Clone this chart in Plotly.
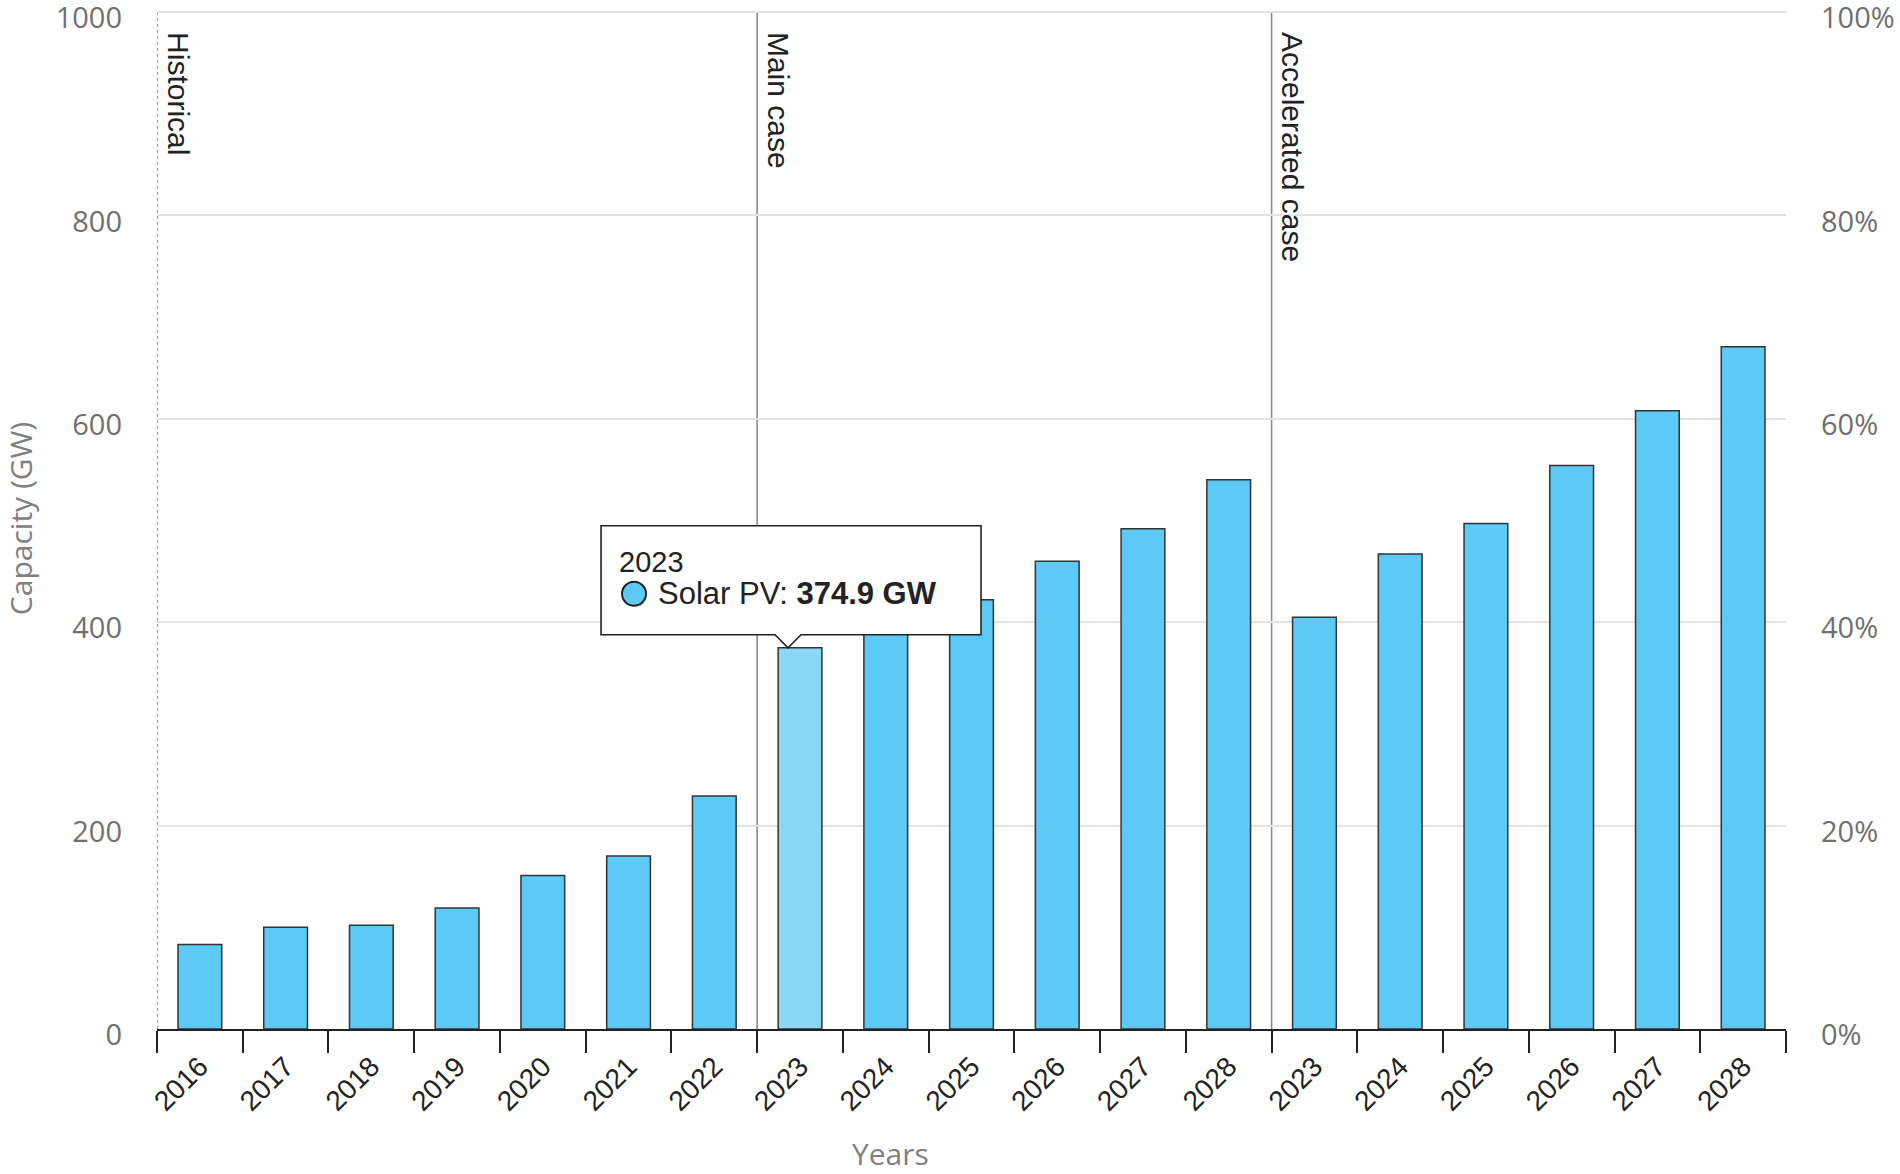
import plotly.graph_objects as go

# ---- data ----
years = ["2016", "2017", "2018", "2019", "2020", "2021", "2022",
         "2023", "2024", "2025", "2026", "2027", "2028",
         "2023", "2024", "2025", "2026", "2027", "2028"]
capacity_gw = [83, 100, 102, 119, 151, 170, 229,
               374.9, 400, 422, 460, 492, 540,
               405, 467, 497, 554, 608, 671]
section_labels = ["Historical", "Main case", "Accelerated case"]
section_starts = [0, 7, 13]          # index of first bar in each section
highlight_index = 7                  # hovered bar (2023 main case)
y_ticks = [0, 200, 400, 600, 800, 1000]
pct_ticks = [0, 20, 40, 60, 80, 100]

BAR = "#5ccaf4"
BAR_HI = "#8ad6f4"

xs = list(range(len(years)))
colors = [BAR_HI if i == highlight_index else BAR for i in xs]

fig = go.Figure()
fig.add_trace(go.Bar(
    x=xs, y=capacity_gw, width=0.51,
    marker=dict(color=colors, line=dict(color="#333333", width=1.5)),
    showlegend=False, hoverinfo="skip",
))
# invisible trace to activate the right-hand percentage axis
fig.add_trace(go.Scatter(x=[xs[0]], y=[None], yaxis="y2", showlegend=False,
                         hoverinfo="skip"))

FONT = "Liberation Sans, Arial, sans-serif"
AXFONT = "Open Sans, Lato, sans-serif"

fig.update_layout(
    width=1900, height=1174,
    margin=dict(l=157, r=114, t=8, b=145),
    paper_bgcolor="white", plot_bgcolor="white",
    xaxis=dict(
        range=[-0.5, len(years) - 0.5],
        tickmode="array", tickvals=xs, ticktext=years,
        tickangle=-45, ticks="", ticklabelstandoff=8,
        tickfont=dict(family=FONT, size=28, color="#222222"),
        showgrid=False, zeroline=False,
        showline=True, linecolor="#222222", linewidth=2,
        minor=dict(tickvals=[i - 0.5 for i in range(len(years) + 1)],
                   ticks="outside", ticklen=22, tickwidth=2,
                   tickcolor="#222222", showgrid=False),
        automargin=False, fixedrange=True,
    ),
    yaxis=dict(
        range=[0, 1004], tickmode="array", tickvals=y_ticks,
        ticktext=[str(v) for v in y_ticks],
        tickfont=dict(family=AXFONT, size=29, color="#707070"),
        showgrid=True, gridcolor="#e3e3e3", gridwidth=2,
        zeroline=False, showline=False, ticks="",
        ticklabelstandoff=34, ticklabeloverflow="allow", ticklabelshift=6,
        title=dict(text="Capacity (GW)", standoff=43,
                   font=dict(family=AXFONT, size=30, color="#808080")),
        automargin=False,
    ),
    yaxis2=dict(
        range=[0, 100.4], overlaying="y", side="right",
        tickmode="array", tickvals=pct_ticks,
        ticktext=[f"{v}%" for v in pct_ticks],
        tickfont=dict(family=AXFONT, size=29, color="#707070"),
        showgrid=False, zeroline=False, showline=False, ticks="",
        ticklabelstandoff=34, ticklabeloverflow="allow", ticklabelshift=6,
        automargin=False,
    ),
    hovermode=False,
)

# section separator lines and labels
for k, (lab, start) in enumerate(zip(section_labels, section_starts)):
    xline = start - 0.5
    fig.add_shape(type="line", xref="x", yref="y", x0=xline, x1=xline,
                  y0=0, y1=1000, layer="below",
                  line=dict(color="#999999" if k == 0 else "#8c8c8c",
                            width=2 if k == 0 else 1.6,
                            dash="dot" if k == 0 else "solid"))
    fig.add_annotation(x=xline, y=1000, xref="x", yref="y", text=lab,
                       textangle=90, showarrow=False, xanchor="left",
                       yanchor="top", xshift=3, yshift=-18,
                       font=dict(family=FONT, size=30, color="#222222"))

# axis title "Years"
fig.add_annotation(x=0.45, y=-0.122, xref="paper", yref="paper", text="Years",
                   showarrow=False, xanchor="center", yanchor="middle",
                   font=dict(family=AXFONT, size=30, color="#808080"))

# tooltip anchored at the highlighted bar's top
hx, hy = highlight_index, capacity_gw[highlight_index]
fig.add_shape(type="path", xref="x", yref="y",
              xsizemode="pixel", ysizemode="pixel",
              xanchor=hx, yanchor=hy,
              path="M -199,13 L -25,13 L -12,0 L 1,13 L 181,13 L 181,122 L -199,122 Z",
              fillcolor="white", line=dict(color="#222222", width=1.6),
              layer="above")
fig.add_shape(type="circle", xref="x", yref="y",
              xsizemode="pixel", ysizemode="pixel",
              xanchor=hx, yanchor=hy,
              x0=-178, x1=-154, y0=42, y1=66,
              fillcolor=BAR, line=dict(color="#222222", width=2),
              layer="above")
fig.add_annotation(x=hx, y=hy, xref="x", yref="y", text=years[hx],
                   showarrow=False, xanchor="left", yanchor="middle",
                   xshift=-183, yshift=86,
                   font=dict(family=FONT, size=29, color="#222222"))
fig.add_annotation(x=hx, y=hy, xref="x", yref="y",
                   text=f"Solar PV: <b>{hy} GW</b>",
                   showarrow=False, xanchor="left", yanchor="middle",
                   xshift=-144, yshift=54,
                   font=dict(family=FONT, size=31, color="#222222"))

fig.write_html(
    "out.html",
    config={"displayModeBar": False},
    post_script="document.body.style.margin='0';document.body.style.overflow='hidden';",
)
